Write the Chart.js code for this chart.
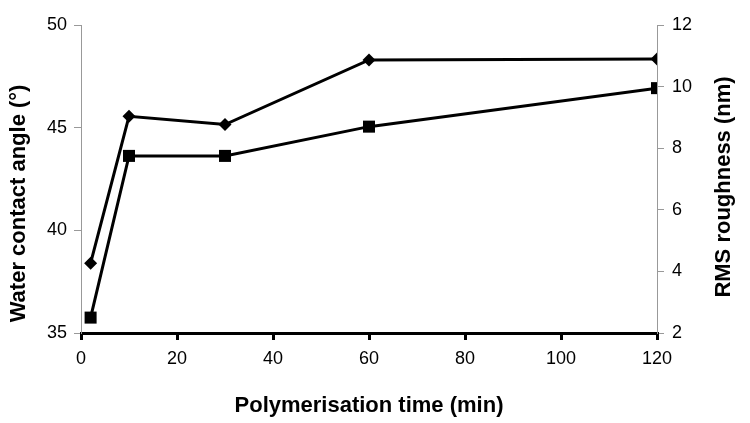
<!DOCTYPE html>
<html>
<head>
<meta charset="utf-8">
<script src="https://cdn.jsdelivr.net/npm/chart.js@4.4.1/dist/chart.umd.min.js"></script>
<style>
  html, body { margin: 0; padding: 0; background: #fff; }
  #wrap { width: 750px; height: 423px; }
</style>
</head>
<body>
<div id="wrap"><canvas id="chart" width="750" height="423"></canvas></div>
<script>
// polymerisation time (min)
const times = [2, 10, 30, 60, 120];
// water contact angle (deg), left axis
const contactAngle = [38.4, 45.55, 45.15, 48.3, 48.35];
// RMS roughness (nm), right axis
const roughness = [2.5, 7.75, 7.75, 8.7, 9.95];

const xTicks = [0, 20, 40, 60, 80, 100, 120];
const leftTicks = [35, 40, 45, 50];
const rightTicks = [2, 4, 6, 8, 10, 12];

const rightTitle = 'RMS roughness (nm)';
const font = 'Liberation Sans, Arial, sans-serif';

const toPoints = (ys) => times.map((t, i) => ({ x: t, y: ys[i] }));

// right-axis title reads bottom-to-top like the left one
const rightTitlePlugin = {
    id: 'rightTitle',
    afterDraw(chart) {
        const { ctx, chartArea } = chart;
        const cy = (chartArea.top + chartArea.bottom) / 2 + 8;
        ctx.save();
        ctx.translate(724, cy);
        ctx.rotate(-Math.PI / 2);
        ctx.font = 'bold 22px ' + font;
        ctx.fillStyle = '#000';
        ctx.textAlign = 'center';
        ctx.textBaseline = 'middle';
        ctx.fillText(rightTitle, 0, 0);
        ctx.restore();
    }
};

new Chart(document.getElementById('chart'), {
    type: 'line',
    data: {
        datasets: [{
            label: 'Water contact angle',
            data: toPoints(contactAngle),
            yAxisID: 'yL',
            borderColor: '#000',
            backgroundColor: '#000',
            borderWidth: 3,
            pointStyle: 'rectRot',
            pointRadius: 6.5,
            pointBorderWidth: 0,
            tension: 0
        }, {
            label: 'RMS roughness',
            data: toPoints(roughness),
            yAxisID: 'yR',
            borderColor: '#000',
            backgroundColor: '#000',
            borderWidth: 3,
            pointStyle: 'rect',
            pointRadius: 8.5,
            pointBorderWidth: 0,
            tension: 0
        }]
    },
    options: {
        responsive: false,
        animation: false,
        layout: { padding: { top: 25, left: 0, right: 0, bottom: 0 } },
        plugins: { legend: { display: false }, tooltip: { enabled: false } },
        scales: {
            x: {
                type: 'linear',
                min: 0, max: 120,
                afterBuildTicks: s => { s.ticks = xTicks.map(v => ({ value: v })); },
                afterFit: s => { s.height = 90; },
                border: { color: '#000', width: 3 },
                grid: { drawOnChartArea: false, color: '#000', lineWidth: 3, tickLength: 7 },
                ticks: { color: '#000', font: { family: font, size: 18 }, padding: 8 },
                title: {
                    display: true,
                    text: 'Polymerisation time (min)',
                    color: '#000',
                    font: { family: font, size: 22, weight: 'bold' },
                    padding: { top: 0, bottom: 4 }
                }
            },
            yL: {
                type: 'linear',
                position: 'left',
                min: 35, max: 50,
                afterBuildTicks: s => { s.ticks = leftTicks.map(v => ({ value: v })); },
                afterFit: s => { s.width = 81; },
                border: { color: '#999', width: 1 },
                grid: { drawOnChartArea: false, color: '#999', tickLength: 7 },
                ticks: { color: '#000', font: { family: font, size: 18 }, padding: 7 },
                title: {
                    display: true,
                    text: 'Water contact angle (°)\u00a0\u00a0\u00a0\u00a0\u00a0\u00a0\u00a0\u00a0',
                    color: '#000',
                    font: { family: font, size: 22, weight: 'bold' },
                    padding: { top: 6, bottom: 0 }
                }
            },
            yR: {
                type: 'linear',
                position: 'right',
                min: 2, max: 12,
                afterBuildTicks: s => { s.ticks = rightTicks.map(v => ({ value: v })); },
                afterFit: s => { s.width = 93; },
                border: { color: '#999', width: 1 },
                grid: { drawOnChartArea: false, color: '#999', tickLength: 7 },
                ticks: { color: '#000', font: { family: font, size: 18 }, padding: 8 },
                title: { display: false }
            }
        }
    },
    plugins: [rightTitlePlugin]
});
</script>
</body>
</html>
